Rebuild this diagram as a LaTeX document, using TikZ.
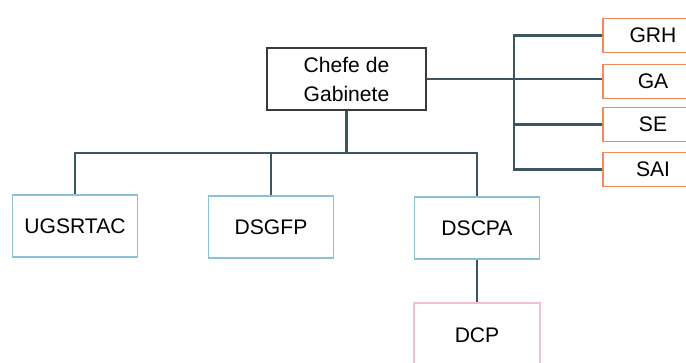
\documentclass[tikz,border=0pt]{standalone}
\usepackage{fontspec}
\setmainfont{Liberation Sans}
\definecolor{linkc}{HTML}{3B5661}
\definecolor{headc}{HTML}{3A3A3A}
\definecolor{bluec}{HTML}{8CC2D8}
\definecolor{orangec}{HTML}{EE8A5C}
\definecolor{pinkc}{HTML}{F2BFCD}
\begin{document}
\begin{tikzpicture}[x=0.02cm, y=-0.02cm,
  box/.style={draw, line width=0.8pt, fill=white, align=center, inner sep=0pt, font=\fontsize{12}{16.5}\selectfont},
  headbox/.style={box, draw=headc, line width=1pt, minimum width=3.18cm, minimum height=1.24cm},
  unitbox/.style={box, draw=bluec, minimum width=2.5cm, minimum height=1.24cm},
  subbox/.style={box, draw=pinkc, minimum width=2.52cm, minimum height=1.28cm},
  sidebox/.style={box, draw=orangec, minimum width=2cm, minimum height=0.69cm},
  link/.style={draw=linkc, line width=1.2pt}]
\useasboundingbox (0,0) rectangle (686,362);
\clip (0,0) rectangle (686,362);
\node[headbox] (chefe) at (346.5,79){Chefe de\\Gabinete};
\node[sidebox] (grh) at (653,35.5){GRH};
\node[sidebox] (ga) at (653,81.5){GA};
\node[sidebox] (se) at (653,124.5){SE};
\node[sidebox] (sai) at (653,169.5){SAI};
\node[unitbox] (ugs) at (75,226){UGSRTAC};
\node[unitbox] (dsgfp) at (271,227){DSGFP};
\node[unitbox] (dscpa) at (477,228){DSCPA};
\node[subbox] (dcp) at (477,335){DCP};
\coordinate (rbus) at (514,79);
\coordinate (lbus) at (346.5,153);
% side units
\draw[link](chefe.east) -- (chefe.east -| ga.west);
\draw[link](grh.west) -| (rbus) |- (sai.west);
\draw[link](se.west) -- (se.west -| rbus);
% directorates
\draw[link](chefe.south) -- (lbus);
\draw[link](ugs.north) |- (lbus) -| (dscpa.north);
\draw[link](dsgfp.north) -- (dsgfp.north |- lbus);
\draw[link](dscpa.south) -- (dcp.north);
\end{tikzpicture}
\end{document}
